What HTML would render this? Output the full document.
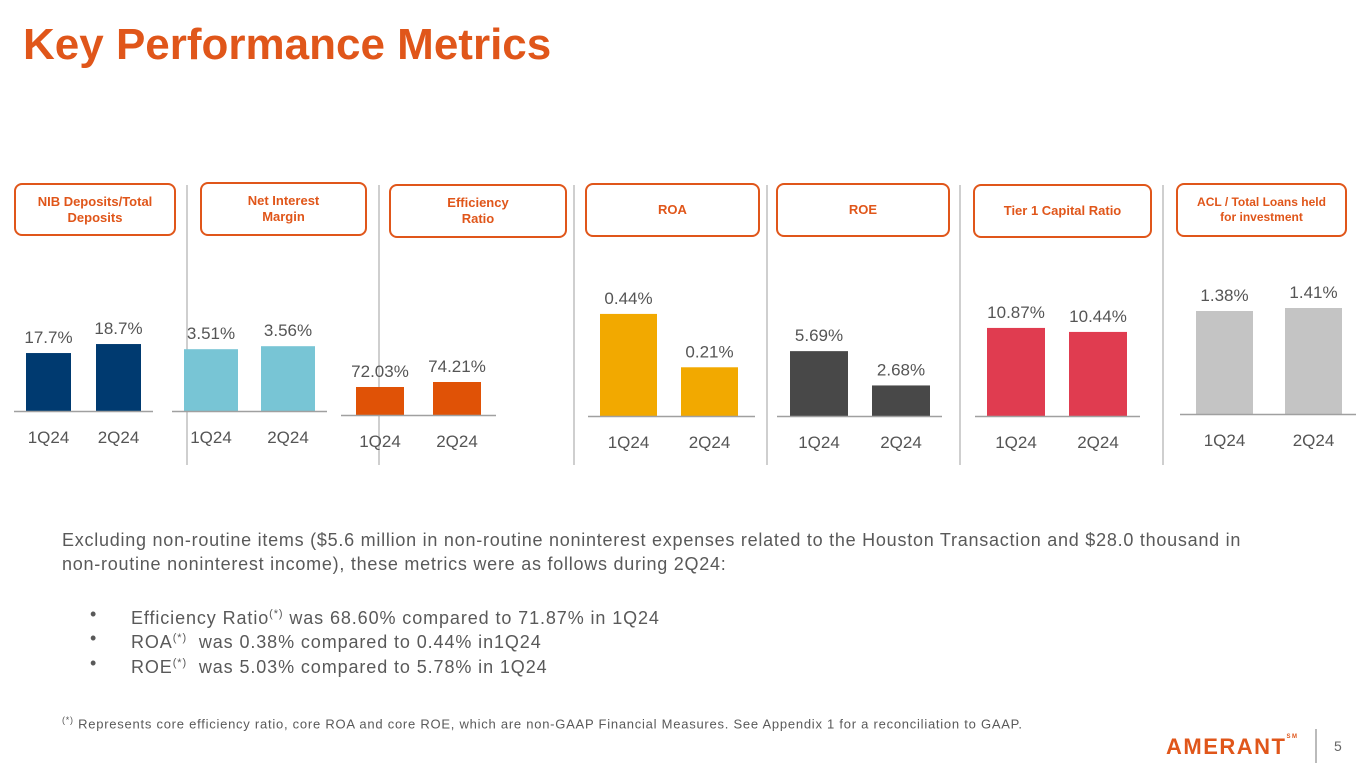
<!DOCTYPE html>
<html><head><meta charset="utf-8">
<style>
body{margin:0;width:1365px;height:768px;background:#fff;font-family:"Liberation Sans",sans-serif;position:relative;overflow:hidden}
.abs{position:absolute}
h1{position:absolute;left:23px;top:20px;margin:0;font-size:44px;font-weight:bold;color:#e0561a;letter-spacing:0px}
.box{position:absolute;border:2px solid #e0561a;border-radius:8px;color:#e0561a;font-weight:bold;font-size:13px;display:flex;align-items:center;justify-content:center;text-align:center;line-height:16px;box-sizing:border-box}
.sep{position:absolute;width:2px;background:#cfcfcf;top:185px;height:280px}
.txt{position:absolute;color:#595959;font-size:18px;line-height:24px;letter-spacing:0.75px;white-space:nowrap}
</style></head><body>
<h1>Key Performance Metrics</h1>
<div class="box" style="left:14px;top:183px;width:162px;height:53px">NIB Deposits/Total<br>Deposits</div>
<div class="box" style="left:200px;top:182px;width:167px;height:54px">Net Interest<br>Margin</div>
<div class="box" style="left:389px;top:184px;width:178px;height:54px">Efficiency<br>Ratio</div>
<div class="box" style="left:585px;top:183px;width:175px;height:54px">ROA</div>
<div class="box" style="left:776px;top:183px;width:174px;height:54px">ROE</div>
<div class="box" style="left:973px;top:184px;width:179px;height:54px">Tier 1 Capital Ratio</div>
<div class="box" style="left:1176px;top:183px;width:171px;height:54px;font-size:12px;line-height:15px">ACL / Total Loans held<br>for investment</div>
<div class="sep" style="left:186px"></div>
<div class="sep" style="left:378px"></div>
<div class="sep" style="left:573px"></div>
<div class="sep" style="left:766px"></div>
<div class="sep" style="left:959px"></div>
<div class="sep" style="left:1162px"></div>
<svg id="charts" class="abs" style="left:0;top:0" width="1365" height="768"></svg>

<div class="txt" style="left:62px;top:528px">Excluding non-routine items ($5.6 million in non-routine noninterest expenses related to the Houston Transaction and $28.0 thousand in<br>non-routine noninterest income), these metrics were as follows during 2Q24:</div>
<div class="txt" style="left:90px;top:602px">•</div>
<div class="txt" style="left:131px;top:602px;letter-spacing:0.9px">Efficiency Ratio<sup style="font-size:11px">(*)</sup> was 68.60% compared to 71.87% in 1Q24</div>
<div class="txt" style="left:90px;top:626px">•</div>
<div class="txt" style="left:131px;top:626px;letter-spacing:0.9px">ROA<sup style="font-size:11px">(*)</sup>&nbsp; was 0.38% compared to 0.44% in1Q24</div>
<div class="txt" style="left:90px;top:651px">•</div>
<div class="txt" style="left:131px;top:651px;letter-spacing:0.9px">ROE<sup style="font-size:11px">(*)</sup>&nbsp; was 5.03% compared to 5.78% in 1Q24</div>
<div class="txt" style="left:62px;top:712px;font-size:13px;line-height:16px;letter-spacing:0.75px"><sup style="font-size:9px">(*)</sup> Represents core efficiency ratio, core ROA and core ROE, which are non-GAAP Financial Measures. See Appendix 1 for a reconciliation to GAAP.</div>
<div class="abs" style="left:1166px;top:734px;color:#e0561a;font-weight:bold;font-size:22px;letter-spacing:1.5px">AMERANT<span style="font-size:6px;vertical-align:top">SM</span></div>
<div class="abs" style="left:1315px;top:729px;width:2px;height:34px;background:#bbb"></div>
<div class="abs" style="left:1334px;top:738px;color:#666;font-size:14px">5</div>

<script>
const categories = ["1Q24","2Q24"];
const nibValues = [17.7, 18.7];
const nimValues = [3.51, 3.56];
const effValues = [72.03, 74.21];
const roaValues = [0.44, 0.21];
const roeValues = [5.69, 2.68];
const tier1Values = [10.87, 10.44];
const aclValues = [1.38, 1.41];
const nibLabels = ["17.7%","18.7%"];
const nimLabels = ["3.51%","3.56%"];
const effLabels = ["72.03%","74.21%"];
const roaLabels = ["0.44%","0.21%"];
const roeLabels = ["5.69%","2.68%"];
const tier1Labels = ["10.87%","10.44%"];
const aclLabels = ["1.38%","1.41%"];

const panels = [
 {name:"nib",vals:nibValues,labels:nibLabels,color:"#003a70",x0:14,x1:153,base:411,bx:[26,96],bw:45,min:11.26,k:9},
 {name:"nim",vals:nimValues,labels:nimLabels,color:"#78c5d5",x0:172,x1:327,base:411,bx:[184,261],bw:54,min:2.48,k:60},
 {name:"efficiency",vals:effValues,labels:effLabels,color:"#e05206",x0:341,x1:496,base:415,bx:[356,433],bw:48,min:59.8,k:2.29},
 {name:"roa",vals:roaValues,labels:roaLabels,color:"#f2a900",x0:588,x1:755,base:416,bx:[600,681],bw:57,min:0,k:232},
 {name:"roe",vals:roeValues,labels:roeLabels,color:"#484848",x0:777,x1:942,base:416,bx:[790,872],bw:58,min:0,k:11.4},
 {name:"tier1",vals:tier1Values,labels:tier1Labels,color:"#e03c50",x0:975,x1:1140,base:416,bx:[987,1069],bw:58,min:1.4,k:9.3},
 {name:"acl",vals:aclValues,labels:aclLabels,color:"#c4c4c4",x0:1180,x1:1356,base:414,bx:[1196,1285],bw:57,min:0.35,k:100}
];
const NS="http://www.w3.org/2000/svg";
const svg=document.getElementById("charts");
function mk(t,a){const e=document.createElementNS(NS,t);for(const k in a)e.setAttribute(k,a[k]);svg.appendChild(e);return e;}
panels.forEach(p=>{
  const y=v=>p.base-(v-p.min)*p.k;
  p.vals.forEach((v,i)=>{
    const top=y(v);
    const r=mk("rect",{x:p.bx[i],y:top,width:p.bw,height:p.base-top,fill:p.color});
    
    
    const t=mk("text",{x:p.bx[i]+p.bw/2,y:top-10,"text-anchor":"middle","font-size":"17",fill:"#555","font-family":"Liberation Sans, sans-serif"});
    t.textContent=p.labels[i];
    
    
    const c=mk("text",{x:p.bx[i]+p.bw/2,y:p.base+32,"text-anchor":"middle","font-size":"17",fill:"#555","font-family":"Liberation Sans, sans-serif"});
    c.textContent=categories[i];
    
    
  });
  const l=mk("line",{x1:p.x0,x2:p.x1,y1:p.base+0.5,y2:p.base+0.5,stroke:"#a0a0a0","stroke-width":"1.5"});
  
  
});
</script>
</body></html>
